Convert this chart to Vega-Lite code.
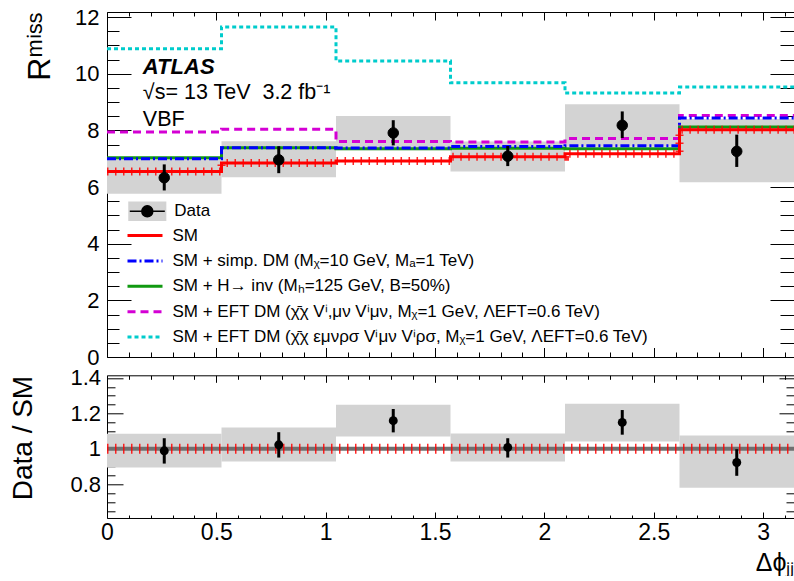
{
  "$schema": "https://vega.github.io/schema/vega-lite/v6.json",
  "padding": {"left": 8, "top": 5, "right": 0, "bottom": 0},
  "background": "white",
  "spacing": 18.3,
  "bounds": "flush",
  "config": {
    "view": {"stroke": "black", "strokeWidth": 1},
    "axis": {"domain": false, "grid": false, "tickColor": "black", "tickWidth": 1, "labelFont": "Liberation Sans", "labelFontSize": 22, "labelColor": "black", "labelFlush": false, "labelOverlap": false, "titleFont": "Liberation Sans", "titleFontWeight": "normal", "titleColor": "black"},
    "legend": {"labelFont": "Liberation Sans", "labelFontSize": 17, "labelColor": "black", "padding": 0, "labelLimit": 1000, "direction": "vertical", "orient": "none"}
  },
  "datasets": {
    "boxes": [
      {"x": 0, "x2": 0.5236, "lo": 5.76, "hi": 7.06, "lab": "box"},
      {"x": 0.5236, "x2": 1.0472, "lo": 6.35, "hi": 7.62, "lab": "box"},
      {"x": 1.0472, "x2": 1.5708, "lo": 7.30, "hi": 8.51, "lab": "box"},
      {"x": 1.5708, "x2": 2.0944, "lo": 6.55, "hi": 7.61, "lab": "box"},
      {"x": 2.0944, "x2": 2.618, "lo": 7.42, "hi": 8.92, "lab": "box"},
      {"x": 2.618, "x2": 3.1416, "lo": 6.17, "hi": 8.40, "lab": "box"}
    ],
    "pts": [
      {"x": 0.2618, "v": 6.33, "lo": 5.88, "hi": 6.80, "lab": "Data"},
      {"x": 0.7854, "v": 6.96, "lo": 6.49, "hi": 7.44, "lab": "Data"},
      {"x": 1.309, "v": 7.91, "lo": 7.47, "hi": 8.36, "lab": "Data"},
      {"x": 1.8326, "v": 7.09, "lo": 6.74, "hi": 7.45, "lab": "Data"},
      {"x": 2.3562, "v": 8.18, "lo": 7.73, "hi": 8.67, "lab": "Data"},
      {"x": 2.8798, "v": 7.26, "lo": 6.71, "hi": 7.85, "lab": "Data"}
    ],
    "lines": [
      {"model": "SM + EFT DM (χ̄χ εμνρσ Vⁱμν Vⁱρσ, Mᵪ=1 GeV, ΛEFT=0.6 TeV)", "x": 0, "v": 10.88},
      {"model": "SM + EFT DM (χ̄χ εμνρσ Vⁱμν Vⁱρσ, Mᵪ=1 GeV, ΛEFT=0.6 TeV)", "x": 0.5236, "v": 11.65},
      {"model": "SM + EFT DM (χ̄χ εμνρσ Vⁱμν Vⁱρσ, Mᵪ=1 GeV, ΛEFT=0.6 TeV)", "x": 1.0472, "v": 10.45},
      {"model": "SM + EFT DM (χ̄χ εμνρσ Vⁱμν Vⁱρσ, Mᵪ=1 GeV, ΛEFT=0.6 TeV)", "x": 1.5708, "v": 9.68},
      {"model": "SM + EFT DM (χ̄χ εμνρσ Vⁱμν Vⁱρσ, Mᵪ=1 GeV, ΛEFT=0.6 TeV)", "x": 2.0944, "v": 9.32},
      {"model": "SM + EFT DM (χ̄χ εμνρσ Vⁱμν Vⁱρσ, Mᵪ=1 GeV, ΛEFT=0.6 TeV)", "x": 2.618, "v": 9.53},
      {"model": "SM + EFT DM (χ̄χ εμνρσ Vⁱμν Vⁱρσ, Mᵪ=1 GeV, ΛEFT=0.6 TeV)", "x": 3.1416, "v": 9.53},
      {"model": "SM + EFT DM (χ̄χ Vⁱ,μν Vⁱμν, Mᵪ=1 GeV, ΛEFT=0.6 TeV)", "x": 0, "v": 7.94},
      {"model": "SM + EFT DM (χ̄χ Vⁱ,μν Vⁱμν, Mᵪ=1 GeV, ΛEFT=0.6 TeV)", "x": 0.5236, "v": 8.04},
      {"model": "SM + EFT DM (χ̄χ Vⁱ,μν Vⁱμν, Mᵪ=1 GeV, ΛEFT=0.6 TeV)", "x": 1.0472, "v": 7.61},
      {"model": "SM + EFT DM (χ̄χ Vⁱ,μν Vⁱμν, Mᵪ=1 GeV, ΛEFT=0.6 TeV)", "x": 1.5708, "v": 7.59},
      {"model": "SM + EFT DM (χ̄χ Vⁱ,μν Vⁱμν, Mᵪ=1 GeV, ΛEFT=0.6 TeV)", "x": 2.0944, "v": 7.71},
      {"model": "SM + EFT DM (χ̄χ Vⁱ,μν Vⁱμν, Mᵪ=1 GeV, ΛEFT=0.6 TeV)", "x": 2.618, "v": 8.53},
      {"model": "SM + EFT DM (χ̄χ Vⁱ,μν Vⁱμν, Mᵪ=1 GeV, ΛEFT=0.6 TeV)", "x": 3.1416, "v": 8.53},
      {"model": "SM + H→ inv (Mₕ=125 GeV, B=50%)", "x": 0, "v": 7.03},
      {"model": "SM + H→ inv (Mₕ=125 GeV, B=50%)", "x": 0.5236, "v": 7.39},
      {"model": "SM + H→ inv (Mₕ=125 GeV, B=50%)", "x": 1.0472, "v": 7.35},
      {"model": "SM + H→ inv (Mₕ=125 GeV, B=50%)", "x": 1.5708, "v": 7.37},
      {"model": "SM + H→ inv (Mₕ=125 GeV, B=50%)", "x": 2.0944, "v": 7.35},
      {"model": "SM + H→ inv (Mₕ=125 GeV, B=50%)", "x": 2.618, "v": 8.12},
      {"model": "SM + H→ inv (Mₕ=125 GeV, B=50%)", "x": 3.1416, "v": 8.12},
      {"model": "SM + simp. DM (Mᵪ=10 GeV, Mₐ=1 TeV)", "x": 0, "v": 7.0},
      {"model": "SM + simp. DM (Mᵪ=10 GeV, Mₐ=1 TeV)", "x": 0.5236, "v": 7.39},
      {"model": "SM + simp. DM (Mᵪ=10 GeV, Mₐ=1 TeV)", "x": 1.0472, "v": 7.38},
      {"model": "SM + simp. DM (Mᵪ=10 GeV, Mₐ=1 TeV)", "x": 1.5708, "v": 7.43},
      {"model": "SM + simp. DM (Mᵪ=10 GeV, Mₐ=1 TeV)", "x": 2.0944, "v": 7.46},
      {"model": "SM + simp. DM (Mᵪ=10 GeV, Mₐ=1 TeV)", "x": 2.618, "v": 8.44},
      {"model": "SM + simp. DM (Mᵪ=10 GeV, Mₐ=1 TeV)", "x": 3.1416, "v": 8.44},
      {"model": "SM", "x": 0, "v": 6.55},
      {"model": "SM", "x": 0.5236, "v": 6.85},
      {"model": "SM", "x": 1.0472, "v": 6.92},
      {"model": "SM", "x": 1.5708, "v": 7.07},
      {"model": "SM", "x": 2.0944, "v": 7.18},
      {"model": "SM", "x": 2.618, "v": 8.02},
      {"model": "SM", "x": 3.1416, "v": 8.02}
    ],
    "rboxes": [
      {"x": 0, "x2": 0.5236, "lo": 0.895, "hi": 1.085},
      {"x": 0.5236, "x2": 1.0472, "lo": 0.929, "hi": 1.121},
      {"x": 1.0472, "x2": 1.5708, "lo": 1.07, "hi": 1.249},
      {"x": 1.5708, "x2": 2.0944, "lo": 0.929, "hi": 1.087},
      {"x": 2.0944, "x2": 2.618, "lo": 1.042, "hi": 1.255},
      {"x": 2.618, "x2": 3.1416, "lo": 0.78, "hi": 1.076}
    ],
    "rpts": [
      {"x": 0.2618, "v": 0.989, "lo": 0.917, "hi": 1.06},
      {"x": 0.7854, "v": 1.023, "lo": 0.951, "hi": 1.094},
      {"x": 1.309, "v": 1.159, "lo": 1.093, "hi": 1.225},
      {"x": 1.8326, "v": 1.008, "lo": 0.951, "hi": 1.06},
      {"x": 2.3562, "v": 1.149, "lo": 1.08, "hi": 1.219},
      {"x": 2.8798, "v": 0.923, "lo": 0.848, "hi": 0.998}
    ]
  },
  "vconcat": [
    {
      "width": 687,
      "height": 345,
      "resolve": {"axis": {"x": "independent", "y": "independent"}},
      "layer": [
        {
          "data": {"name": "boxes"},
          "mark": {"type": "rect"},
          "encoding": {
            "x": {"field": "x", "type": "quantitative", "scale": {"domain": [0, 3.1416], "nice": false, "zero": false},
              "axis": {"orient": "bottom", "values": [0, 0.5, 1, 1.5, 2, 2.5, 3], "labels": false, "tickSize": -9.5, "title": null}},
            "x2": {"field": "x2"},
            "y": {"field": "lo", "type": "quantitative", "scale": {"domain": [0, 12.18], "nice": false, "zero": false},
              "axis": {"orient": "left", "values": [0, 2, 4, 6, 8, 10, 12], "format": "~g", "tickSize": -24, "labelPadding": 32, "title": "Rᵐⁱˢˢ", "titleFontSize": 32, "titleAnchor": "end", "titlePadding": 18}},
            "y2": {"field": "hi"},
            "fill": {"field": "lab", "type": "nominal", "scale": {"domain": ["box"], "range": ["#d3d3d3"]},
              "legend": {"title": null, "orient": "none", "legendX": 29.3, "legendY": 188.3, "symbolType": "M-1.83,-0.9H1.83V0.9H-1.83Z", "symbolSize": 400, "symbolStrokeWidth": 1.5, "symbolStrokeColor": "#d3d3d3", "labelOffset": 16, "labelExpr": "''"}}
          }
        },
        {
          "data": {"name": "lines"},
          "mark": {"type": "line", "interpolate": "step-after", "strokeWidth": 3},
          "encoding": {
            "x": {"field": "x", "type": "quantitative", "scale": {"domain": [0, 3.1416], "nice": false, "zero": false},
              "axis": {"orient": "bottom", "values": [0.1, 0.2, 0.3, 0.4, 0.6, 0.7, 0.8, 0.9, 1.1, 1.2, 1.3, 1.4, 1.6, 1.7, 1.8, 1.9, 2.1, 2.2, 2.3, 2.4, 2.6, 2.7, 2.8, 2.9, 3.1], "labels": false, "tickSize": -5, "title": null}},
            "y": {"field": "v", "type": "quantitative", "scale": {"domain": [0, 12.18], "nice": false, "zero": false},
              "axis": {"orient": "left", "values": [0.5, 1, 1.5, 2.5, 3, 3.5, 4.5, 5, 5.5, 6.5, 7, 7.5, 8.5, 9, 9.5, 10.5, 11, 11.5], "labels": false, "tickSize": -12, "title": null}},
            "color": {"field": "model", "type": "nominal",
              "scale": {"domain": ["SM", "SM + simp. DM (Mᵪ=10 GeV, Mₐ=1 TeV)", "SM + H→ inv (Mₕ=125 GeV, B=50%)", "SM + EFT DM (χ̄χ Vⁱ,μν Vⁱμν, Mᵪ=1 GeV, ΛEFT=0.6 TeV)", "SM + EFT DM (χ̄χ εμνρσ Vⁱμν Vⁱρσ, Mᵪ=1 GeV, ΛEFT=0.6 TeV)"],
                "range": ["#ff0000", "#0000ff", "#119911", "#d400d4", "#00cccc"]},
              "legend": {"title": null, "orient": "none", "legendX": 26.5, "legendY": 212, "symbolType": "M-1.75,0H1.75", "symbolSize": 400, "symbolStrokeWidth": 3, "labelOffset": 16, "rowPadding": 5.4}},
            "strokeDash": {"field": "model", "type": "nominal",
              "scale": {"domain": ["SM", "SM + simp. DM (Mᵪ=10 GeV, Mₐ=1 TeV)", "SM + H→ inv (Mₕ=125 GeV, B=50%)", "SM + EFT DM (χ̄χ Vⁱ,μν Vⁱμν, Mᵪ=1 GeV, ΛEFT=0.6 TeV)", "SM + EFT DM (χ̄χ εμνρσ Vⁱμν Vⁱρσ, Mᵪ=1 GeV, ΛEFT=0.6 TeV)"],
                "range": [[1, 0], [9, 3, 2, 3], [1, 0], [8, 5], [4, 3]]},
              "legend": {"title": null, "orient": "none", "legendX": 26.5, "legendY": 212, "symbolType": "M-1.75,0H1.75", "symbolSize": 400, "symbolStrokeWidth": 3, "labelOffset": 16, "rowPadding": 5.4}}
          }
        },
        {
          "data": {"name": "lines"},
          "transform": [{"filter": "datum.model == 'SM'"}],
          "mark": {"type": "line", "interpolate": "step-after", "strokeWidth": 8, "strokeDash": [1.5, 6.5], "color": "#ff0000", "opacity": 0.85},
          "encoding": {
            "x": {"field": "x", "type": "quantitative", "scale": {"domain": [0, 3.1416], "nice": false, "zero": false},
              "axis": {"orient": "top", "values": [0, 0.5, 1, 1.5, 2, 2.5, 3], "labels": false, "tickSize": -8, "title": null}},
            "y": {"field": "v", "type": "quantitative", "scale": {"domain": [0, 12.18], "nice": false, "zero": false},
              "axis": {"orient": "right", "values": [0, 2, 4, 6, 8, 10, 12], "labels": false, "tickSize": -24, "title": null}}
          }
        },
        {
          "data": {"name": "pts"},
          "mark": {"type": "rule", "strokeWidth": 3, "color": "black"},
          "encoding": {
            "x": {"field": "x", "type": "quantitative", "scale": {"domain": [0, 3.1416], "nice": false, "zero": false},
              "axis": {"orient": "top", "values": [0.1, 0.2, 0.3, 0.4, 0.6, 0.7, 0.8, 0.9, 1.1, 1.2, 1.3, 1.4, 1.6, 1.7, 1.8, 1.9, 2.1, 2.2, 2.3, 2.4, 2.6, 2.7, 2.8, 2.9, 3.1], "labels": false, "tickSize": -4, "title": null}},
            "y": {"field": "lo", "type": "quantitative", "scale": {"domain": [0, 12.18], "nice": false, "zero": false},
              "axis": {"orient": "right", "values": [0.5, 1, 1.5, 2.5, 3, 3.5, 4.5, 5, 5.5, 6.5, 7, 7.5, 8.5, 9, 9.5, 10.5, 11, 11.5], "labels": false, "tickSize": -14, "title": null}},
            "y2": {"field": "hi"}
          }
        },
        {
          "data": {"name": "pts"},
          "mark": {"type": "point", "filled": true, "shape": "circle", "size": 110, "fill": "black", "opacity": 1, "strokeWidth": 1},
          "encoding": {
            "x": {"field": "x", "type": "quantitative", "scale": {"domain": [0, 3.1416], "nice": false, "zero": false}, "axis": null},
            "y": {"field": "v", "type": "quantitative", "scale": {"domain": [0, 12.18], "nice": false, "zero": false}, "axis": null},
            "stroke": {"field": "lab", "type": "nominal", "scale": {"domain": ["Data"], "range": ["black"]},
              "legend": {"title": null, "orient": "none", "legendX": 29.3, "legendY": 188.3, "symbolType": "M-1.75,0H1.75M-0.55,0A0.55,0.55 0 1 0 0.55,0A0.55,0.55 0 1 0 -0.55,0Z", "symbolSize": 400, "symbolStrokeWidth": 1.5, "symbolFillColor": "black", "labelOffset": 16}}
          }
        },
        {
          "data": {"values": [{}]},
          "mark": {"type": "text", "text": "ATLAS", "font": "Liberation Sans", "fontSize": 22, "fontWeight": "bold", "fontStyle": "italic", "align": "left", "baseline": "alphabetic", "color": "black"},
          "encoding": {
            "x": {"datum": 0.164, "type": "quantitative", "scale": {"domain": [0, 3.1416], "nice": false, "zero": false}, "axis": null},
            "y": {"datum": 10.0, "type": "quantitative", "scale": {"domain": [0, 12.18], "nice": false, "zero": false}, "axis": null}
          }
        },
        {
          "data": {"values": [{}]},
          "mark": {"type": "text", "text": "√s= 13 TeV\u00a0\u00a03.2 fb⁻¹", "font": "Liberation Sans", "fontSize": 21.5, "align": "left", "baseline": "alphabetic", "color": "black"},
          "encoding": {
            "x": {"datum": 0.164, "type": "quantitative", "scale": {"domain": [0, 3.1416], "nice": false, "zero": false}, "axis": null},
            "y": {"datum": 9.1, "type": "quantitative", "scale": {"domain": [0, 12.18], "nice": false, "zero": false}, "axis": null}
          }
        },
        {
          "data": {"values": [{}]},
          "mark": {"type": "text", "text": "VBF", "font": "Liberation Sans", "fontSize": 21.5, "align": "left", "baseline": "alphabetic", "color": "black"},
          "encoding": {
            "x": {"datum": 0.164, "type": "quantitative", "scale": {"domain": [0, 3.1416], "nice": false, "zero": false}, "axis": null},
            "y": {"datum": 8.15, "type": "quantitative", "scale": {"domain": [0, 12.18], "nice": false, "zero": false}, "axis": null}
          }
        }
      ]
    },
    {
      "width": 687,
      "height": 142.7,
      "resolve": {"axis": {"x": "independent", "y": "independent"}},
      "layer": [
        {
          "data": {"name": "rboxes"},
          "mark": {"type": "rect", "fill": "#d3d3d3"},
          "encoding": {
            "x": {"field": "x", "type": "quantitative", "scale": {"domain": [0, 3.1416], "nice": false, "zero": false},
              "axis": {"orient": "bottom", "values": [0, 0.5, 1, 1.5, 2, 2.5, 3], "format": "~g", "tickSize": -6, "labelPadding": 9, "labelFontSize": 23, "title": "Δϕⱼⱼ", "titleFontSize": 25, "titleAnchor": "end", "titleAlign": "right", "titlePadding": 6}},
            "x2": {"field": "x2"},
            "y": {"field": "lo", "type": "quantitative", "scale": {"domain": [0.61, 1.415], "nice": false, "zero": false},
              "axis": {"orient": "left", "values": [0.8, 1, 1.2, 1.4], "format": "~g", "tickSize": -16, "labelPadding": 22.5, "title": "Data / SM", "titleFontSize": 28, "titleAnchor": "end", "titlePadding": 32.7}},
            "y2": {"field": "hi"}
          }
        },
        {
          "data": {"values": [{}]},
          "mark": {"type": "rule", "color": "#707070", "strokeWidth": 4},
          "encoding": {
            "x": {"datum": 0, "type": "quantitative", "scale": {"domain": [0, 3.1416], "nice": false, "zero": false},
              "axis": {"orient": "top", "values": [0, 0.5, 1, 1.5, 2, 2.5, 3], "labels": false, "tickSize": -7, "title": null}},
            "x2": {"datum": 3.1416},
            "y": {"datum": 1, "type": "quantitative", "scale": {"domain": [0.61, 1.415], "nice": false, "zero": false},
              "axis": {"orient": "right", "values": [0.8, 1, 1.2, 1.4], "labels": false, "tickSize": -15, "title": null}}
          }
        },
        {
          "data": {"values": [{}]},
          "mark": {"type": "rule", "color": "#ff0000", "strokeWidth": 10, "strokeDash": [1.5, 6.5], "opacity": 0.85},
          "encoding": {
            "x": {"datum": 0, "type": "quantitative", "scale": {"domain": [0, 3.1416], "nice": false, "zero": false},
              "axis": {"orient": "top", "values": [0.1, 0.2, 0.3, 0.4, 0.6, 0.7, 0.8, 0.9, 1.1, 1.2, 1.3, 1.4, 1.6, 1.7, 1.8, 1.9, 2.1, 2.2, 2.3, 2.4, 2.6, 2.7, 2.8, 2.9, 3.1], "labels": false, "tickSize": -4, "title": null}},
            "x2": {"datum": 3.1416},
            "y": {"datum": 1, "type": "quantitative", "scale": {"domain": [0.61, 1.415], "nice": false, "zero": false},
              "axis": {"orient": "right", "values": [0.65, 0.7, 0.75, 0.85, 0.9, 0.95, 1.05, 1.1, 1.15, 1.25, 1.3, 1.35], "labels": false, "tickSize": -8, "title": null}}
          }
        },
        {
          "data": {"name": "rpts"},
          "mark": {"type": "rule", "strokeWidth": 3, "color": "black"},
          "encoding": {
            "x": {"field": "x", "type": "quantitative", "scale": {"domain": [0, 3.1416], "nice": false, "zero": false},
              "axis": {"orient": "bottom", "values": [0.1, 0.2, 0.3, 0.4, 0.6, 0.7, 0.8, 0.9, 1.1, 1.2, 1.3, 1.4, 1.6, 1.7, 1.8, 1.9, 2.1, 2.2, 2.3, 2.4, 2.6, 2.7, 2.8, 2.9, 3.1], "labels": false, "tickSize": -3, "title": null}},
            "y": {"field": "lo", "type": "quantitative", "scale": {"domain": [0.61, 1.415], "nice": false, "zero": false},
              "axis": {"orient": "left", "values": [0.65, 0.7, 0.75, 0.85, 0.9, 0.95, 1.05, 1.1, 1.15, 1.25, 1.3, 1.35], "labels": false, "tickSize": -8, "title": null}},
            "y2": {"field": "hi"}
          }
        },
        {
          "data": {"name": "rpts"},
          "mark": {"type": "point", "filled": true, "shape": "circle", "size": 80, "color": "black", "opacity": 1},
          "encoding": {
            "x": {"field": "x", "type": "quantitative", "scale": {"domain": [0, 3.1416], "nice": false, "zero": false}, "axis": null},
            "y": {"field": "v", "type": "quantitative", "scale": {"domain": [0.61, 1.415], "nice": false, "zero": false}, "axis": null}
          }
        }
      ]
    }
  ]
}
